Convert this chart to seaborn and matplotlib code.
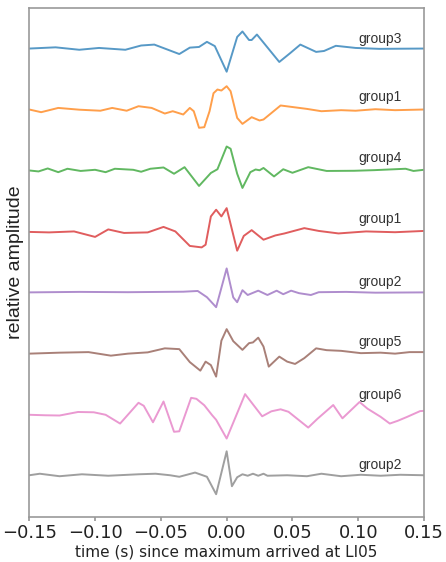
import pandas as pd
import matplotlib
matplotlib.use("Agg")
import matplotlib.pyplot as plt
import seaborn as sns

# Digitised waveforms: time (s) relative to the maximum, relative amplitude.
# Traces are listed top to bottom.
labels = ["group3", "group1", "group4", "group1", "group2", "group5", "group6", "group2"]

t_group3a = [-0.150, -0.130, -0.112, -0.097, -0.077, -0.065, -0.055, -0.036, -0.028, -0.021,
             -0.015, -0.009, 0.000, 0.008, 0.012, 0.017, 0.019, 0.023, 0.040, 0.048,
             0.056, 0.068, 0.074, 0.083, 0.098, 0.116, 0.150]
a_group3a = [0.0, 0.02, -0.02, 0.01, -0.02, 0.05, 0.065, -0.09, 0.015, 0.026,
             0.11, 0.04, -0.38, 0.19, 0.28, 0.14, 0.14, 0.23, -0.22, -0.08,
             0.065, -0.055, -0.04, 0.045, 0.01, -0.005, 0.0]

t_group1a = [-0.150, -0.141, -0.128, -0.112, -0.096, -0.087, -0.076, -0.067, -0.057, -0.047,
             -0.041, -0.033, -0.028, -0.025, -0.021, -0.017, -0.013, -0.010, -0.007, -0.004,
             0.000, 0.003, 0.008, 0.012, 0.019, 0.025, 0.028, 0.041, 0.051, 0.061,
             0.072, 0.087, 0.098, 0.113, 0.128, 0.150]
a_group1a = [0.0, -0.044, 0.026, -0.003, -0.02, 0.026, -0.02, 0.054, 0.026, -0.066,
             -0.028, -0.082, 0.026, -0.028, -0.30, -0.29, -0.028, 0.267, 0.328, 0.311,
             0.382, 0.30, -0.138, -0.236, -0.126, -0.18, -0.164, 0.066, 0.038, 0.01,
             -0.028, -0.011, -0.02, 0.005, -0.011, 0.0]

t_group4 = [-0.150, -0.143, -0.136, -0.128, -0.121, -0.111, -0.100, -0.092, -0.085, -0.071,
            -0.065, -0.058, -0.048, -0.040, -0.032, -0.021, -0.012, -0.007, 0.000, 0.003,
            0.008, 0.012, 0.018, 0.022, 0.025, 0.028, 0.036, 0.043, 0.050, 0.062,
            0.076, 0.097, 0.112, 0.136, 0.142, 0.150]
a_group4 = [0.0, -0.016, 0.033, -0.028, 0.028, -0.008, 0.011, -0.028, 0.028, 0.011,
            -0.021, 0.028, 0.049, -0.054, 0.054, -0.254, -0.041, 0.02, 0.393, 0.356,
            -0.054, -0.287, -0.028, 0.016, 0.003, 0.041, -0.098, 0.02, -0.038, 0.054,
            -0.008, -0.005, 0.005, 0.028, -0.008, 0.011]

t_group1b = [-0.150, -0.135, -0.116, -0.100, -0.090, -0.078, -0.060, -0.048, -0.039, -0.028,
             -0.019, -0.016, -0.012, -0.008, -0.004, 0.000, 0.008, 0.013, 0.019, 0.028,
             0.037, 0.044, 0.059, 0.070, 0.085, 0.106, 0.128, 0.150]
a_group1b = [-0.008, -0.016, 0.0, -0.09, 0.033, -0.025, -0.016, 0.074, 0.0, -0.238,
             -0.262, -0.218, 0.246, 0.356, 0.246, 0.382, -0.316, -0.074, 0.021, -0.136,
             -0.066, -0.033, 0.054, 0.008, -0.033, 0.0, -0.013, 0.008]

t_group2a = [-0.150, -0.112, -0.075, -0.033, -0.022, -0.015, -0.008, -0.005, 0.000, 0.005,
             0.008, 0.012, 0.016, 0.024, 0.031, 0.038, 0.043, 0.049, 0.055, 0.064,
             0.070, 0.091, 0.113, 0.150]
a_group2a = [0.0, 0.008, 0.003, 0.011, 0.023, -0.079, -0.243, -0.005, 0.393, -0.082,
             -0.161, 0.036, -0.043, 0.028, -0.043, 0.028, -0.03, 0.028, -0.013, -0.043,
             0.003, 0.008, -0.005, 0.0]

t_group5 = [-0.150, -0.127, -0.105, -0.088, -0.075, -0.060, -0.047, -0.036, -0.028, -0.020,
            -0.016, -0.012, -0.008, -0.004, 0.000, 0.005, 0.012, 0.017, 0.020, 0.024,
            0.028, 0.032, 0.040, 0.046, 0.052, 0.059, 0.068, 0.076, 0.087, 0.102,
            0.117, 0.128, 0.139, 0.150]
a_group5 = [-0.005, 0.011, 0.02, -0.038, -0.005, 0.016, 0.082, 0.069, -0.144, -0.284,
            -0.136, -0.193, -0.382, 0.208, 0.397, 0.2, 0.057, 0.167, 0.179, 0.257,
            0.111, -0.218, -0.054, -0.136, -0.174, -0.079, 0.082, 0.052, 0.041, 0.003,
            0.011, -0.005, 0.02, 0.02]

t_group6 = [-0.150, -0.138, -0.127, -0.113, -0.101, -0.092, -0.081, -0.067, -0.063, -0.056,
            -0.048, -0.040, -0.036, -0.027, -0.023, -0.017, -0.011, -0.008, 0.000, 0.014,
            0.027, 0.034, 0.041, 0.047, 0.062, 0.069, 0.081, 0.088, 0.101, 0.107,
            0.117, 0.124, 0.130, 0.137, 0.147, 0.150]
a_group6 = [-0.008, -0.016, -0.02, 0.038, 0.033, -0.008, -0.152, 0.189, 0.139, -0.131,
            0.21, -0.287, -0.279, 0.27, 0.254, 0.148, -0.016, -0.09, -0.398, 0.331,
            -0.033, 0.049, 0.082, 0.041, -0.218, -0.074, 0.152, -0.066, 0.202, 0.093,
            -0.041, -0.152, -0.107, -0.044, 0.052, 0.057]

t_group2b = [-0.150, -0.142, -0.127, -0.110, -0.090, -0.067, -0.054, -0.043, -0.036, -0.024,
             -0.015, -0.008, 0.000, 0.004, 0.008, 0.012, 0.016, 0.020, 0.024, 0.028,
             0.031, 0.046, 0.061, 0.072, 0.087, 0.102, 0.117, 0.132, 0.150]
a_group2b = [0.0, 0.025, -0.016, 0.016, -0.008, 0.016, 0.025, 0.0, -0.025, 0.044,
             -0.025, -0.311, 0.393, -0.18, -0.033, 0.016, -0.008, 0.025, -0.008, 0.025,
             -0.008, 0.0, -0.016, 0.025, -0.016, 0.008, -0.008, 0.008, 0.0]

times = [t_group3a, t_group1a, t_group4, t_group1b, t_group2a, t_group5, t_group6, t_group2b]
amps = [a_group3a, a_group1a, a_group4, a_group1b, a_group2a, a_group5, a_group6, a_group2b]
xticks = [-0.15, -0.10, -0.05, 0.00, 0.05, 0.10, 0.15]

# small lift of each label above its trace
label_lift = [0.16, 0.21, 0.21, 0.2, 0.17, 0.19, 0.31, 0.16]

sns.set_theme(style="ticks")

# long-form frame, each trace shifted down by one unit
rows = []
for i, (t, a) in enumerate(zip(times, amps)):
    for tt, aa in zip(t, a):
        rows.append({"time": tt, "y": aa - i, "trace": f"trace{i}"})
df = pd.DataFrame(rows)

fig = plt.figure(figsize=(4.46, 5.62), dpi=100)
ax = fig.add_axes([0.0657, 0.0806, 0.885, 0.9046])

colors = sns.color_palette("tab10", 8)
sns.lineplot(data=df, x="time", y="y", hue="trace", palette=colors, sort=False,
             estimator=None, legend=False, linewidth=1.4, alpha=0.75, ax=ax)

for i, lab in enumerate(labels):
    ax.text(0.10, -i + label_lift[i], lab, ha="left", va="center", fontsize=10,
            family="Liberation Sans", color="#333333")

ax.set_xlim(-0.15, 0.15)
ax.set_ylim(-7.68, 0.66)
ax.set_xticks(xticks)
ax.set_xticklabels([f"{v:.2f}".replace("-", "\u2212") for v in xticks], fontsize=13,
                   color="#222222")
ax.set_yticks([])
ax.tick_params(axis="x", length=3, color="#999999", pad=2)
ax.set_xlabel("time (s) since maximum arrived at LI05", fontsize=11, labelpad=2,
              color="#222222")
ax.set_ylabel("relative amplitude", fontsize=14, family="Liberation Sans", labelpad=4,
              color="#222222")
for sp in ax.spines.values():
    sp.set_visible(True)
    sp.set_color("#999999")
    sp.set_linewidth(1.2)

fig.savefig("out.png", dpi=100)
